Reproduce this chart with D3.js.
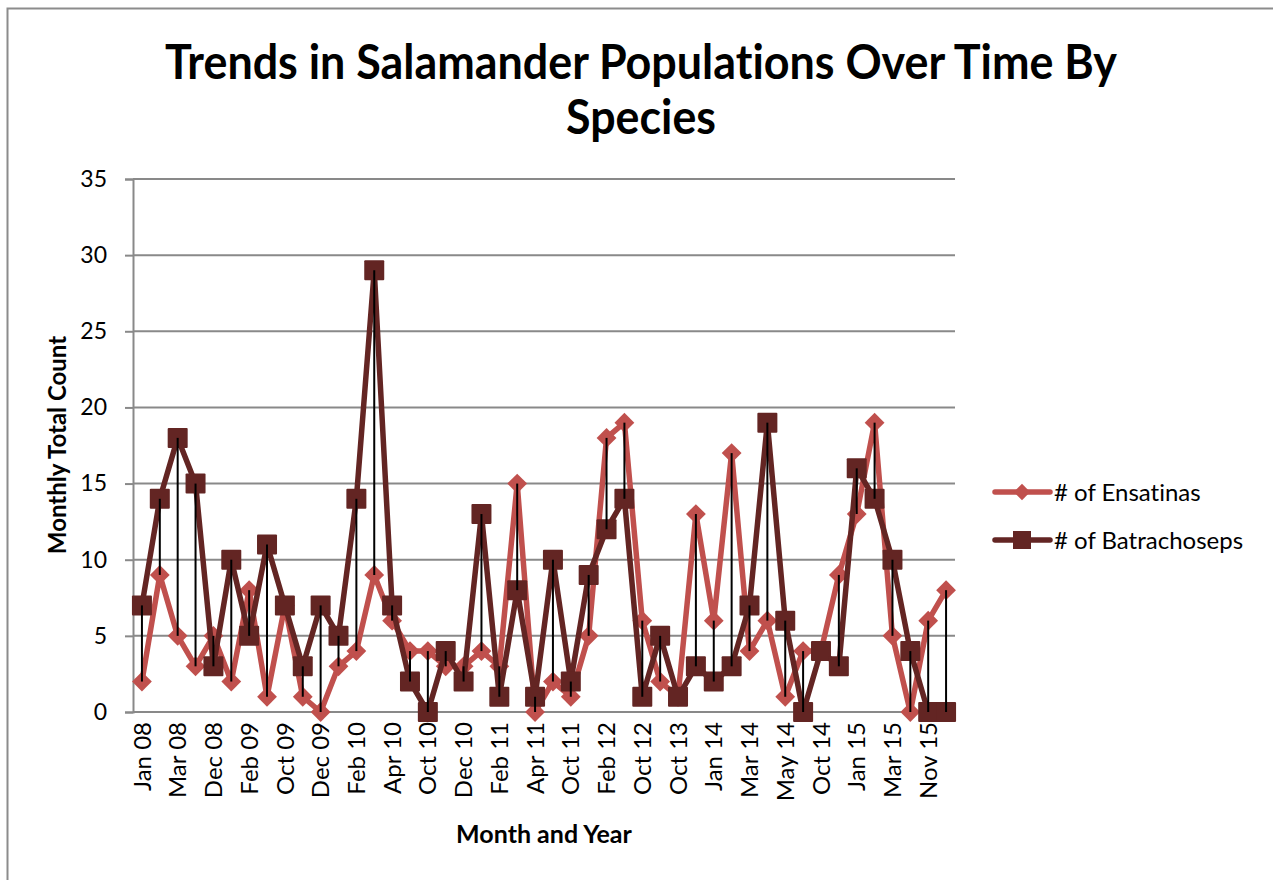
<!DOCTYPE html>
<html>
<head>
<meta charset="utf-8">
<script src="https://cdn.jsdelivr.net/npm/d3@7"></script>
<style>
  html, body { margin: 0; padding: 0; background: #ffffff; }
  svg { display: block; }
  text { font-family: Lato, "Open Sans", "DejaVu Sans", sans-serif; fill: #000; font-variant-ligatures: none; }
</style>
</head>
<body>
<svg id="chart" width="1273" height="880"></svg>
<script>
// ---- data ----
const categories = [
  "Jan 08","Feb 08","Mar 08","Apr 08","Dec 08","Jan 09","Feb 09","Mar 09","Oct 09","Nov 09",
  "Dec 09","Jan 10","Feb 10","Mar 10","Apr 10","May 10","Oct 10","Nov 10","Dec 10","Jan 11",
  "Feb 11","Mar 11","Apr 11","May 11","Oct 11","Nov 11","Feb 12","Mar 12","Oct 12","Nov 12",
  "Oct 13","Nov 13","Jan 14","Feb 14","Mar 14","Apr 14","May 14","Jun 14","Oct 14","Nov 14",
  "Jan 15","Feb 15","Mar 15","Apr 15","Nov 15","Dec 15"
];
const ensatinas = [2,9,5,3,5,2,8,1,7,1, 0,3,4,9,6,4,4,3,3,4, 3,15,0,2,1,5,18,19,6,2, 1,13,6,17,4,6,1,4,4,9, 13,19,5,0,6,8];
const batrachoseps = [7,14,18,15,3,10,5,11,7,3, 7,5,14,29,7,2,0,4,2,13, 1,8,1,10,2,9,12,14,1,5, 1,3,2,3,7,19,6,0,4,3, 16,14,10,4,0,0];
const seriesNames = ["# of Ensatinas", "# of Batrachoseps"];
const yTicks = [0,5,10,15,20,25,30,35];
const titleLines = ["Trends in Salamander Populations Over Time By", "Species"];
const xTitle = "Month and Year";
const yTitle = "Monthly Total Count";

// ---- styles ----
const colEns = "#C0504D";
const colBat = "#632523";
const gridCol = "#898989";

const svg = d3.select("#chart");
const W = 1273, H = 880;
const plot = { left: 133, right: 955, top: 179, bottom: 712 };

// chart border
svg.append("rect").attr("x", 7.5).attr("y", 8.5).attr("width", W + 20).attr("height", H + 20)
  .attr("fill", "#fff").attr("stroke", "#8c8c8c").attr("stroke-width", 2);

const x = d3.scaleBand().domain(categories).range([plot.left, plot.right]);
const cx = c => x(c) + x.bandwidth() / 2;
const y = d3.scaleLinear().domain([0, 35]).range([plot.bottom, plot.top]);

// gridlines
svg.append("g").selectAll("line").data(yTicks).join("line")
  .attr("x1", plot.left).attr("x2", plot.right)
  .attr("y1", d => y(d)).attr("y2", d => y(d))
  .attr("stroke", gridCol).attr("stroke-width", 2);

// y axis
const yAxis = svg.append("g").attr("transform", `translate(${plot.left},0)`)
  .call(d3.axisLeft(y).tickValues(yTicks).tickSize(8).tickPadding(18).tickFormat(d3.format("d")));
yAxis.select(".domain").attr("stroke", gridCol).attr("stroke-width", 2);
yAxis.selectAll(".tick line").attr("stroke", gridCol).attr("stroke-width", 2);
yAxis.selectAll(".tick text").attr("font-size", 23).attr("font-family", "Lato").attr("fill", "#000");

// x axis labels (every other category)
const xAxis = svg.append("g").attr("transform", `translate(0,${plot.bottom})`)
  .call(d3.axisBottom(x).tickValues(categories.filter((d, i) => i % 2 === 0)).tickSize(0));
xAxis.select(".domain").remove();
xAxis.selectAll(".tick text")
  .attr("transform", "rotate(-90)")
  .attr("x", -10).attr("y", 0).attr("dy", "0.36em")
  .style("text-anchor", "end")
  .attr("font-size", 24).attr("font-family", "Lato").attr("fill", "#000");

// series
const ensData = categories.map((c, i) => ({ c, v: ensatinas[i] }));
const batData = categories.map((c, i) => ({ c, v: batrachoseps[i] }));
const line = d3.line().x(d => cx(d.c)).y(d => y(d.v));

svg.append("path").datum(ensData).attr("d", line).attr("fill", "none")
  .attr("stroke", colEns).attr("stroke-width", 5.5).attr("stroke-linejoin", "round");
const diamond = d3.symbol().type(d3.symbolDiamond2).size(250);
svg.append("g").selectAll("path").data(ensData).join("path")
  .attr("transform", d => `translate(${cx(d.c)},${y(d.v)})`)
  .attr("d", diamond).attr("fill", colEns);

svg.append("path").datum(batData).attr("d", line).attr("fill", "none")
  .attr("stroke", colBat).attr("stroke-width", 5.5).attr("stroke-linejoin", "round");
svg.append("g").selectAll("rect").data(batData).join("rect")
  .attr("x", d => cx(d.c) - 10).attr("y", d => y(d.v) - 10)
  .attr("width", 20).attr("height", 20).attr("rx", 1).attr("fill", colBat);

// high-low lines
svg.append("g").selectAll("line").data(categories).join("line")
  .attr("x1", c => cx(c)).attr("x2", c => cx(c))
  .attr("y1", (c, i) => y(Math.min(ensatinas[i], batrachoseps[i])))
  .attr("y2", (c, i) => y(Math.max(ensatinas[i], batrachoseps[i])))
  .attr("stroke", "#000").attr("stroke-width", 2);

// title
const title = svg.append("g").attr("font-weight", "bold").attr("text-anchor", "middle");
title.append("text").attr("x", 641).attr("y", 79).attr("font-size", 48)
  .attr("textLength", 952).attr("lengthAdjust", "spacingAndGlyphs").text(titleLines[0]);
title.append("text").attr("x", 641).attr("y", 134).attr("font-size", 48)
  .attr("textLength", 150).attr("lengthAdjust", "spacingAndGlyphs").text(titleLines[1]);

// axis titles
svg.append("text").attr("x", 544).attr("y", 843).attr("text-anchor", "middle")
  .attr("font-weight", "bold").attr("font-size", 25).text(xTitle);
svg.append("text").attr("transform", "translate(66,445) rotate(-90)").attr("text-anchor", "middle")
  .attr("font-weight", "bold").attr("font-size", 24).text(yTitle);

// legend
const legend = svg.append("g");
const legY = [492, 540];
const legCols = [colEns, colBat];
legend.selectAll("line").data(seriesNames).join("line")
  .attr("x1", 995).attr("x2", 1050)
  .attr("y1", (d, i) => legY[i]).attr("y2", (d, i) => legY[i])
  .attr("stroke", (d, i) => legCols[i]).attr("stroke-width", 5.5).attr("stroke-linecap", "round");
legend.append("path").attr("transform", `translate(1022,${legY[0]})`)
  .attr("d", d3.symbol().type(d3.symbolDiamond2).size(170)).attr("fill", colEns);
legend.append("rect").attr("x", 1022 - 9).attr("y", legY[1] - 9).attr("width", 18).attr("height", 18).attr("fill", colBat);
legend.selectAll("text").data(seriesNames).join("text")
  .attr("x", 1054).attr("y", (d, i) => legY[i]).attr("dy", "0.36em")
  .attr("font-size", 24).text(d => d);
</script>
</body>
</html>
